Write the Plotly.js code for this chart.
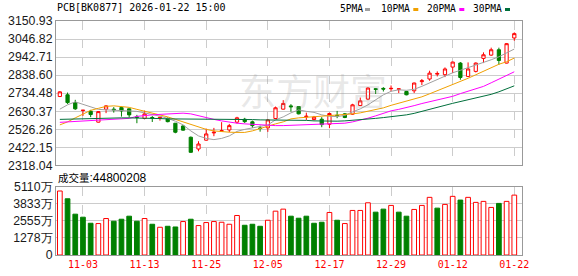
<!DOCTYPE html>
<html><head><meta charset="utf-8">
<script src="https://cdn.plot.ly/plotly-3.0.1.min.js"></script>
<style>html,body{margin:0;padding:0;background:#fff}#chart{width:578px;height:276px}</style>
</head><body><div id="chart"></div>
<script>
const dates = ['2025-10-29','2025-10-30','2025-10-31','2025-11-03','2025-11-04','2025-11-05','2025-11-06','2025-11-07','2025-11-10','2025-11-11',
'2025-11-12','2025-11-13','2025-11-14','2025-11-17','2025-11-18','2025-11-19','2025-11-20','2025-11-21','2025-11-24','2025-11-25',
'2025-11-26','2025-11-27','2025-11-28','2025-12-01','2025-12-02','2025-12-03','2025-12-04','2025-12-05','2025-12-08','2025-12-09',
'2025-12-10','2025-12-11','2025-12-12','2025-12-15','2025-12-16','2025-12-17','2025-12-18','2025-12-19','2025-12-22','2025-12-23',
'2025-12-24','2025-12-25','2025-12-26','2025-12-29','2025-12-30','2025-12-31','2026-01-05','2026-01-06','2026-01-07','2026-01-08',
'2026-01-09','2026-01-12','2026-01-13','2026-01-14','2026-01-15','2026-01-16','2026-01-19','2026-01-20','2026-01-21','2026-01-22'];

const open  = [2715,2725,2680,2634,2630,2567,2642,2642,2651,2644, 2597,2588,2594,2590,2588,2561,2545,2480,2412,2463,
               2505,2515,2522,2567,2584,2569,2533,2534,2588,2642, 2661,2657,2598,2582,2584,2555,2607,2615,2613,2663,
               2700,2760,2762,2760,2757,2744,2748,2801,2816,2844, 2841,2885,2908,2831,2860,2935,2954,2985,2908,3053];
const high  = [2746,2738,2696,2637,2638,2630,2665,2654,2657,2645, 2609,2634,2603,2596,2595,2562,2551,2484,2457,2530,
               2534,2567,2557,2598,2592,2576,2547,2584,2657,2694, 2671,2660,2622,2603,2596,2622,2632,2620,2673,2709,
               2768,2763,2769,2779,2760,2748,2795,2816,2864,2860, 2883,2916,2914,2912,2912,2970,2997,2997,3024,3085];
const low   = [2712,2672,2638,2603,2596,2565,2619,2622,2599,2594, 2561,2585,2568,2576,2566,2503,2518,2390,2399,2460,
               2486,2513,2509,2559,2562,2534,2512,2511,2585,2640, 2628,2612,2580,2578,2538,2532,2590,2590,2609,2660,
               2694,2730,2744,2744,2735,2722,2735,2781,2806,2831, 2827,2850,2812,2827,2854,2908,2950,2898,2906,3037];
const close = [2742,2680,2644,2636,2611,2628,2661,2638,2632,2609, 2595,2615,2590,2595,2570,2509,2521,2393,2441,2499,
               2509,2518,2547,2592,2570,2547,2531,2580,2650,2675, 2656,2615,2601,2596,2553,2617,2604,2594,2667,2690,
               2764,2756,2758,2762,2759,2725,2793,2806,2850,2848, 2874,2914,2825,2874,2908,2956,2985,2923,3020,3078];

// volume in units of 万 (10,000 shares)
const volume = [4788,4207,3054,2828,2375,2352,2729,2526,2677,2903, 2526,2729,2300,2074,2149,2096,2503,2677,2202,2428,
                2503,2451,2300,2956,2224,2300,2149,2601,3280,3431, 2903,2752,2903,2375,2451,3182,2601,2352,3333,3333,
                3906,3205,3431,3710,3205,2903,3408,3710,4313,3506, 3785,4388,4109,4313,3936,4011,3559,3860,4011,4480];
const volUp = [1,0,0,0,0,1,1,0,0,0, 0,1,0,1,0,0,1,0,1,1, 1,1,1,1,0,0,0,1,1,1,
               0,0,0,0,0,1,0,1,1,1, 1,0,0,1,0,0,1,1,1,0, 1,1,0,1,1,1,1,0,1,1];

const ma5  = [2642.1,2667.0,2684.3,2669.9,2652.5,2641.0,2638.1,2635.2,2632.3,2630.5, 2629.4,2620.7,2612.0,2601.6,2588.9,2572.7,2551.3,2516.6,2487.7,2473.2,
              2466.3,2473.2,2487.7,2513.7,2525.3,2533.9,2542.6,2551.3,2580.2,2597.6, 2620.7,2638.1,2629.4,2623.6,2609.1,2600.5,2599.3,2606.2,2626.5,2643.8,
              2667.0,2695.9,2724.8,2745.1,2753.7,2750.8,2756.6,2773.9,2794.2,2814.4, 2831.8,2852.1,2866.5,2881.0,2895.4,2909.9,2927.2,2944.6,2967.7,2989.1];
const ma10 = [2551.3,2568.6,2591.8,2614.9,2635.2,2646.8,2658.3,2661.2,2658.3,2652.5, 2641.0,2630.5,2620.7,2609.1,2597.6,2583.1,2568.6,2554.2,2542.6,2525.3,
              2516.6,2510.8,2509.1,2507.9,2507.9,2516.6,2531.1,2542.6,2557.1,2568.6, 2586.0,2591.8,2594.7,2597.6,2600.5,2603.4,2606.2,2609.1,2614.9,2620.7,
              2629.4,2638.1,2649.6,2664.1,2675.7,2690.1,2701.7,2713.3,2730.6,2748.0, 2765.3,2785.6,2802.9,2820.3,2840.5,2860.8,2881.0,2901.3,2915.7,2937.1];
const ma20 = [2566.0,2568.6,2571.5,2572.7,2574.4,2577.3,2580.2,2581.9,2584.2,2588.9, 2600.5,2606.2,2609.1,2612.0,2614.9,2619.0,2619.0,2614.9,2603.4,2591.8,
              2583.1,2574.4,2565.7,2561.1,2557.1,2554.2,2551.3,2548.4,2547.2,2547.2, 2548.4,2549.6,2551.3,2553.0,2554.2,2555.3,2557.1,2561.1,2568.6,2578.4,
              2590.0,2603.4,2619.0,2632.3,2641.0,2653.7,2662.4,2674.5,2685.5,2694.2, 2703.5,2716.2,2731.8,2745.7,2757.3,2773.5,2794.3,2814.5,2834.7,2857.8];
const ma30 = [2583.1,2584.2,2586.0,2587.7,2590.0,2591.8,2591.8,2591.8,2591.8,2591.8, 2591.8,2590.0,2588.9,2587.7,2586.0,2586.0,2586.0,2586.0,2584.2,2583.1,
              2583.1,2583.1,2583.1,2583.1,2583.1,2581.9,2580.2,2580.2,2580.2,2580.2, 2580.2,2578.5,2577.3,2574.4,2572.7,2571.5,2572.7,2574.4,2577.3,2580.2,
              2583.1,2588.9,2593.5,2597.6,2603.4,2609.1,2617.8,2630.5,2640.9,2652.5, 2664.1,2675.7,2685.5,2697.1,2706.3,2716.2,2727.7,2742.2,2759.6,2776.8];

const tickDates  = ['2025-11-03','2025-11-13','2025-11-25','2025-12-05','2025-12-17','2025-12-29','2026-01-12','2026-01-22'];
const tickLabels = ['11-03','11-13','11-25','12-05','12-17','12-29','01-12','01-22'];
const priceTicks = [2318.04,2422.15,2526.26,2630.37,2734.48,2838.60,2942.71,3046.82,3150.93];
const volTicks = [0,1278,2555,3833,5110];
const volTickText = ['0','1278万','2555万','3833万','5110万'];
const maNames = ['5PMA','10PMA','20PMA','30PMA'];
const maColors = ['#a0a0a0','#f0a000','#ff00ff','#006f3c'];
const titleText = 'PCB[BK0877] 2026-01-22 15:00';
const volLabel = '成交量';
const lastVolume = '44800208';
const watermark = '东方财富';

const RED = '#ff0000', GREEN = '#008000';

const traces = [];
traces.push({
  type:'candlestick', x:dates, open:open, high:high, low:low, close:close,
  xaxis:'x', yaxis:'y', whiskerwidth:0,
  increasing:{line:{color:RED,width:1}, fillcolor:'#ffffff'},
  decreasing:{line:{color:GREEN,width:1}, fillcolor:GREEN},
  hoverinfo:'skip'
});
[ma5,ma10,ma20,ma30].forEach((m,i)=>{
  traces.push({type:'scatter', mode:'lines', x:dates, y:m, xaxis:'x', yaxis:'y',
    line:{color:maColors[i], width:1}, hoverinfo:'skip'});
});
traces.push({
  type:'bar', x:dates, y:volume, xaxis:'x2', yaxis:'y2',
  marker:{color:volUp.map(u=>u?'#ffffff':GREEN), line:{color:volUp.map(u=>u?RED:GREEN), width:1}},
  hoverinfo:'skip'
});

const L = 56, R = 522, T = 21, B = 255;
const W = R - L, H = B - T;
const px = x => (x - L) / W;
const py = y => (B - y) / H;

const annotations = [
  {xref:'paper', yref:'paper', x:px(55), y:py(8), xanchor:'left', yanchor:'middle', showarrow:false,
   text:titleText, font:{family:'DejaVu Sans Mono', size:10, color:'#000'}},
  {xref:'paper', yref:'paper', x:px(56), y:py(177.5), xanchor:'left', yanchor:'middle', showarrow:false,
   text:'<span style="font-family:Noto Sans CJK SC;font-size:10.5px">'+volLabel+'</span>:'+lastVolume,
   font:{family:'Liberation Sans', size:12, color:'#000'}},
  {xref:'paper', yref:'paper', x:px(313), y:py(90), xanchor:'center', yanchor:'middle', showarrow:false,
   text:watermark, font:{family:'Noto Sans CJK SC', size:37, color:'rgba(150,150,150,0.22)'}}
];
const legendX = [338, 379, 424.5, 470.5];
const squareX = [365, 413.3, 459.3, 505];
const shapes = [];
maNames.forEach((n,i)=>{
  annotations.push({xref:'paper', yref:'paper', x:px(legendX[i]), y:py(9), xanchor:'left', yanchor:'middle',
    showarrow:false, text:n, font:{family:'DejaVu Sans Mono', size:9.6, color:'#000'}});
  shapes.push({type:'rect', xref:'paper', yref:'paper', x0:px(squareX[i]), x1:px(squareX[i]+5),
    y0:py(11), y1:py(8), fillcolor:maColors[i], line:{width:0}});
});

const axFrame = {showline:true, mirror:true, linecolor:'#999999', linewidth:1, ticks:'', zeroline:false, fixedrange:true};
const layout = {
  width:578, height:276,
  margin:{l:L, r:578-R, t:T, b:276-B},
  paper_bgcolor:'#ffffff', plot_bgcolor:'#ffffff',
  showlegend:false, hovermode:false, dragmode:false,
  bargap:0.39, boxgap:0.4,
  xaxis:Object.assign({}, axFrame, {type:'category', anchor:'y', range:[-0.5,60], showticklabels:false,
    tickmode:'array', tickvals:tickDates, showgrid:true, gridcolor:'#cccccc', griddash:'dash', gridwidth:1,
    rangeslider:{visible:false}}),
  xaxis2:Object.assign({}, axFrame, {type:'category', anchor:'y2', matches:'x', range:[-0.5,60],
    tickmode:'array', tickvals:tickDates, ticktext:tickLabels, showgrid:true, gridcolor:'#cccccc', griddash:'dash', gridwidth:1,
    tickfont:{family:'DejaVu Sans Mono', size:10, color:'#ff0000'}, rangeslider:{visible:false}}),
  yaxis:Object.assign({}, axFrame, {domain:[py(165.3),1], range:[2318.04,3150.93], tickmode:'array',
    tickvals:priceTicks, ticktext:priceTicks.map(v=>v.toFixed(2)), showgrid:true, gridcolor:'#cccccc', gridwidth:1,
    tickfont:{family:'Liberation Sans', size:12.3, color:'#1a1a1a'}}),
  yaxis2:Object.assign({}, axFrame, {domain:[0,py(186.7)], range:[0,5110], tickmode:'array',
    tickvals:volTicks, ticktext:volTickText, showgrid:true, gridcolor:'#cccccc', gridwidth:1,
    tickfont:{family:'Liberation Sans', size:12.3, color:'#1a1a1a'}}),
  annotations:annotations, shapes:shapes
};
Plotly.newPlot('chart', traces, layout, {staticPlot:true, displayModeBar:false});
</script></body></html>
